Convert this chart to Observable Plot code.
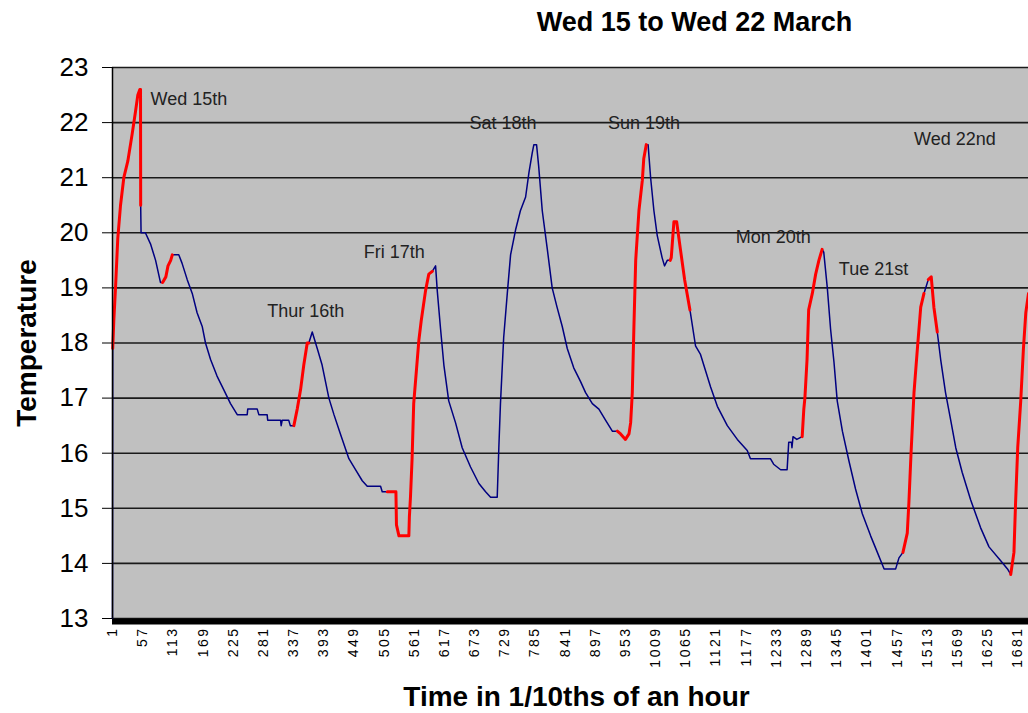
<!DOCTYPE html>
<html>
<head>
<meta charset="utf-8">
<script src="https://cdn.jsdelivr.net/npm/d3@7"></script>
<script src="https://cdn.jsdelivr.net/npm/@observablehq/plot@0.6"></script>
<style>
  html, body { margin: 0; padding: 0; background: #fff; }
  #chart svg { display: block; }
  #chart g[aria-label="x-axis tick label"] text { letter-spacing: 2.5px; }
</style>
</head>
<body>
<div id="chart"></div>
<script>
// Time index (1/10ths of an hour)
const times = [1,1.4,3.4,6.6,10.8,15.9,22,29.4,37.6,43.7,48,51.7,53,53.3,54,62,71.5,81,90,94,100,104,109,112,124,130,139.7,149,158,167.5,173.6,183,195,207.6,220,232.5,251,252,269.6,272.6,288,289,313,314,316,328,331,337.6,343.8,350,356,362.4,365.4,371.7,381,390,402.6,412,424,439.7,452,464.5,473.8,498.5,501.6,511,527,528,532.6,551,552,554,557,560,565,569.6,573.9,582,588,594.5,600.6,603.7,609.9,616,625,637.7,650,665.5,681,693.4,702.7,715,718,721,727,733.7,739.8,749,758,767.7,774,780,783,788,792,798.6,808,817,826,835.7,845,857,869.7,879,891.5,903.7,916,928.6,937.9,944,953,959.5,962.6,965.7,968.7,972,978,984.3,987,991.7,995,999.7,1005.8,1012,1021,1025.5,1030.6,1036,1038,1042.9,1048,1055,1062.8,1072.7,1083,1092,1111,1123.5,1142,1160.6,1179,1185,1222,1228,1241,1253,1256,1261,1262,1264,1271,1281,1284,1286,1290,1293,1299.8,1306,1312,1318,1321,1327.6,1333.7,1340,1346,1355.6,1368,1380,1392.6,1408,1420.5,1433,1454.5,1460.6,1468,1476,1479,1483,1488.5,1494.8,1501,1507,1515,1520.5,1525.4,1531.7,1538,1547,1556.6,1566,1578,1593.7,1612,1627.7,1649.4,1662,1668,1674,1677,1681,1686.6,1691.6,1696,1701];
// Temperature readings
const temps = [13.0,17.9,18.4,19.0,19.9,20.5,21.0,21.3,21.8,22.2,22.5,22.6,22.6,20.5,20.0,20.0,19.8,19.5,19.1,19.1,19.2,19.4,19.5,19.6,19.6,19.45,19.15,18.9,18.55,18.3,18.0,17.7,17.4,17.15,16.9,16.7,16.7,16.8,16.8,16.7,16.7,16.6,16.6,16.5,16.6,16.6,16.5,16.5,16.8,17.15,17.6,18.0,18.0,18.2,17.9,17.6,17.0,16.7,16.35,15.9,15.7,15.5,15.4,15.4,15.3,15.3,15.3,14.7,14.5,14.5,14.85,15.2,15.9,16.9,17.5,18.05,18.4,18.95,19.25,19.3,19.4,18.95,18.25,17.6,16.95,16.55,16.1,15.75,15.45,15.3,15.2,15.2,16.1,16.9,18.1,18.9,19.6,20.05,20.4,20.65,21.1,21.45,21.6,21.6,21.2,20.4,19.7,19.0,18.65,18.3,17.9,17.55,17.3,17.1,16.9,16.8,16.6,16.4,16.4,16.35,16.25,16.35,16.55,17.1,18.3,19.5,20.4,20.95,21.35,21.6,21.6,21.0,20.4,19.95,19.55,19.4,19.5,19.5,19.55,20.2,20.2,19.7,19.15,18.6,17.95,17.8,17.2,16.85,16.5,16.25,16.05,15.9,15.9,15.8,15.7,15.7,16.2,16.2,16.1,16.3,16.25,16.3,16.8,17.0,17.7,18.6,18.9,19.25,19.5,19.7,19.65,19.0,18.25,17.65,16.95,16.4,15.85,15.35,14.9,14.5,14.2,13.9,13.9,14.1,14.2,14.55,15.1,16.0,17.1,17.9,18.65,18.9,19.15,19.2,18.65,18.2,17.7,17.1,16.6,16.1,15.65,15.15,14.65,14.3,14.05,13.9,13.8,14.2,15.1,16.1,16.95,17.9,18.55,18.9];
// Periods with the heating on (drawn red): start and end time index
const heatStarts = [1.4, 94, 337.6, 511, 937.9, 1036, 1281, 1468, 1515, 1668];
const heatEnds   = [53.3, 112, 365.4, 594.5, 991.7, 1072.7, 1318, 1507, 1531.7, 1701];

const dayLabels = ["Wed 15th","Thur 16th","Fri 17th","Sat 18th","Sun 19th","Mon 20th","Tue 21st","Wed 22nd"];
const dayLabelTimes = [71.5,288,467.5,663.7,920.5,1157.5,1349,1488.5];
const dayLabelTemps = [22.42,18.57,19.65,21.98,21.98,19.92,19.33,21.69];

const xTicks = d3.range(1, 1682, 56);
const yTicks = [13,14,15,16,17,18,19,20,21,22,23];

const titleText = "Wed 15 to Wed 22 March";
const xTitle = "Time in 1/10ths of an hour";
const yTitle = "Temperature";

// Build contiguous segments by heating state
const isHeat = (a, b) => heatStarts.some((s, k) => a >= s && b <= heatEnds[k]);
const pts = [];
let seg = -1, prev = null;
for (let i = 0; i < times.length - 1; i++) {
  const s = isHeat(times[i], times[i + 1]) ? 1 : 0;
  if (s !== prev) { seg++; pts.push({t: times[i], v: temps[i], seg, heat: s}); prev = s; }
  pts.push({t: times[i + 1], v: temps[i + 1], seg, heat: s});
}
const bluePts = pts.filter(d => d.heat === 0);
const redPts = pts.filter(d => d.heat === 1);

const labels = dayLabels.map((name, i) => ({name, t: dayLabelTimes[i], v: dayLabelTemps[i]}));

const font = "'Liberation Sans', Arial, sans-serif";

const chart = Plot.plot({
  width: 1028,
  height: 713,
  marginTop: 67,
  marginLeft: 112,
  marginRight: 0,
  marginBottom: 95,
  style: {fontFamily: font, background: "#fff", color: "#000", overflow: "visible"},
  x: {domain: [1, 1701]},
  y: {domain: [13, 23]},
  marks: [
    Plot.frame({fill: "#c0c0c0", stroke: null}),
    Plot.ruleY(yTicks, {stroke: "#1a1a1a", strokeWidth: 1.6}),
    Plot.line(bluePts, {x: "t", y: "v", z: "seg", stroke: "#000080", strokeWidth: 1.5}),
    Plot.line(redPts, {x: "t", y: "v", z: "seg", stroke: "#ff0000", strokeWidth: 3}),
    Plot.ruleX([1], {stroke: "#000", strokeWidth: 1.5}),
    Plot.ruleY([13], {stroke: "#000", strokeWidth: 6, dy: 3}),
    Plot.axisY(yTicks, {tickSize: 10, tickPadding: 14, fontSize: 26, label: null, stroke: "#000", tickFormat: d => String(d)}),
    Plot.axisX(xTicks, {tickSize: 0, tickPadding: 8, tickRotate: -90, fontSize: 14, label: null, tickFormat: d => String(d)}),
    Plot.text(labels, {x: "t", y: "v", text: "name", textAnchor: "start", fontSize: 18, fill: "#222"}),
    Plot.text([titleText], {frameAnchor: "top", lineAnchor: "middle", dx: 124, dy: -45, fontSize: 27, fontWeight: "bold", fill: "#000"}),
    Plot.text([yTitle], {frameAnchor: "left", textAnchor: "middle", lineAnchor: "middle", rotate: -90, dx: -85, fontSize: 28, fontWeight: "bold", fill: "#000"}),
    Plot.text([xTitle], {frameAnchor: "bottom", lineAnchor: "middle", dx: 6, dy: 79, fontSize: 28, fontWeight: "bold", fill: "#000"})
  ]
});
document.getElementById("chart").appendChild(chart);
</script>
</body>
</html>
